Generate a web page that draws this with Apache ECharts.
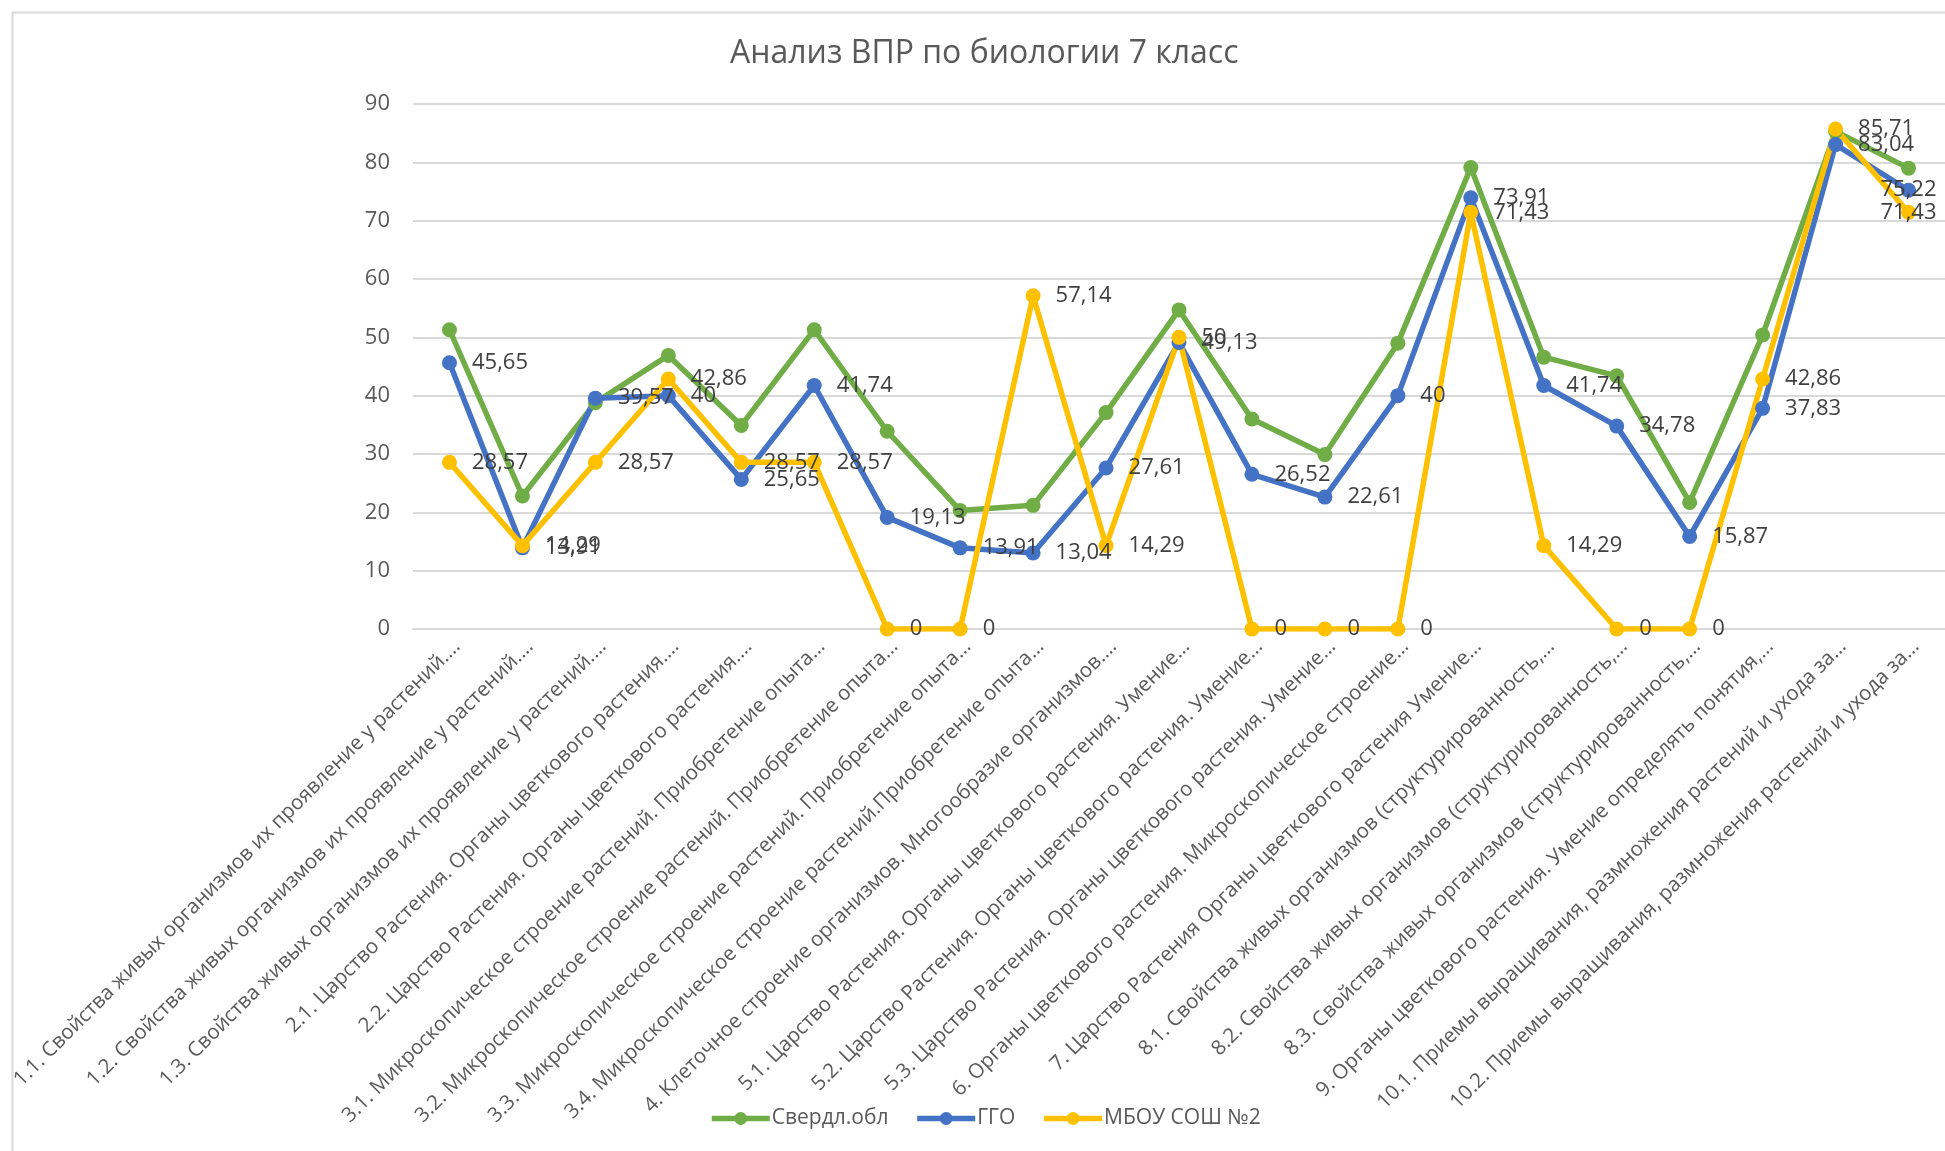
<!DOCTYPE html>
<html>
<head>
<meta charset="utf-8">
<title>Анализ ВПР по биологии 7 класс</title>
<script src="https://cdn.jsdelivr.net/npm/echarts@6/dist/echarts.min.js"></script>
<style>
  html, body { margin: 0; padding: 0; background: #fff; }
  #chart { width: 1945px; height: 1151px; }
</style>
</head>
<body>
<div id="chart"></div>
<script>
// задания ВПР (подписи обрезаны так же, как в Excel)
const tasks = [
  '1.1. Свойства живых организмов их проявление у растений.…',
  '1.2. Свойства живых организмов их проявление у растений.…',
  '1.3. Свойства живых организмов их проявление у растений.…',
  '2.1. Царство Растения. Органы цветкового растения.…',
  '2.2. Царство Растения. Органы цветкового растения.…',
  '3.1. Микроскопическое строение растений. Приобретение опыта…',
  '3.2. Микроскопическое строение растений. Приобретение опыта…',
  '3.3. Микроскопическое строение растений. Приобретение опыта…',
  '3.4. Микроскопическое строение растений.Приобретение опыта…',
  '4. Клеточное строение организмов. Многообразие организмов.…',
  '5.1. Царство Растения. Органы цветкового растения. Умение…',
  '5.2. Царство Растения. Органы цветкового растения. Умение…',
  '5.3. Царство Растения. Органы цветкового растения. Умение…',
  '6. Органы цветкового растения. Микроскопическое строение…',
  '7. Царство Растения Органы цветкового растения Умение…',
  '8.1. Свойства живых организмов (структурированность,…',
  '8.2. Свойства живых организмов (структурированность,…',
  '8.3. Свойства живых организмов (структурированность,…',
  '9. Органы цветкового растения. Умение определять понятия,…',
  '10.1. Приемы выращивания, размножения растений и ухода за…',
  '10.2. Приемы выращивания, размножения растений и ухода за…'
]

// Свердловская область (подписей нет)
const sverdl = [51.3, 22.8, 38.8, 46.9, 34.9, 51.3, 33.9, 20.3, 21.2, 37.1,
  54.7, 36.0, 29.9, 49.0, 79.1, 46.6, 43.4, 21.7, 50.4, 85.3, 79.0]
// ГГО
const ggo = [45.65, 13.91, 39.57, 40, 25.65, 41.74, 19.13, 13.91, 13.04, 27.61,
  49.13, 26.52, 22.61, 40, 73.91, 41.74, 34.78, 15.87, 37.83, 83.04, 75.22]
// МБОУ СОШ №2
const school = [28.57, 14.29, 28.57, 42.86, 28.57, 28.57, 0, 0, 57.14, 14.29,
  50, 0, 0, 0, 71.43, 14.29, 0, 0, 42.86, 85.71, 71.43]

const yTicks = [0, 10, 20, 30, 40, 50, 60, 70, 80, 90]

const FONT = '"Open Sans", "Noto Sans", sans-serif'

// подпись в формате Excel: запятая вместо точки
const fmt = v => String(v).replace('.', ',')

// последняя точка у правого края — подпись по центру точки, как в Excel
function withLabels(arr) {
  return arr.map((v, i) => i === arr.length - 1
    ? { value: v, label: { position: 'inside' } }
    : v)
}

function lineSeries(name, data, color, showLabel) {
  return {
    name: name,
    type: 'line',
    data: showLabel ? withLabels(data) : data,
    symbol: 'circle',
    symbolSize: 15,
    lineStyle: { width: 5.5, color: color },
    itemStyle: { color: color },
    label: {
      show: showLabel,
      position: 'right',
      distance: 15,
      color: '#404040',
      fontFamily: FONT,
      fontSize: 22,
      formatter: p => fmt(p.value)
    },
    emphasis: { disabled: true },
    animation: false
  }
}

const chart = echarts.init(document.getElementById('chart'))

const option = {
  backgroundColor: '#fff',
  color: ['#70AD47', '#4472C4', '#FFC000'],
  title: {
    text: 'Анализ ВПР по биологии 7 класс',
    left: 725,
    top: 33,
    textStyle: { color: '#595959', fontFamily: FONT, fontSize: 32, fontWeight: 'normal' }
  },
  graphic: [{
    // рамка области диаграммы
    type: 'rect',
    left: 10,
    top: 10,
    silent: true,
    z: -1,
    shape: { width: 2000, height: 1200 },
    style: { fill: 'none', stroke: '#d9d9d9', lineWidth: 2 }
  }],
  legend: {
    left: 704,
    top: 1103,
    itemWidth: 58,
    itemHeight: 16,
    itemGap: 26,
    lineStyle: { width: 5.5 },
    textStyle: { color: '#595959', fontFamily: FONT, fontSize: 21, padding: [0, 0, 0, -3] },
    data: ['Свердл.обл', 'ГГО', 'МБОУ СОШ №2']
  },
  grid: { left: 413, right: -7, top: 104, bottom: 522 },
  xAxis: {
    type: 'category',
    data: tasks,
    boundaryGap: true,
    axisLine: { show: true, lineStyle: { color: '#d9d9d9', width: 2 } },
    axisTick: { show: false },
    axisLabel: {
      interval: 0,
      rotate: 45,
      margin: 7,
      verticalAlign: 'top',
      color: '#595959',
      fontFamily: FONT,
      fontSize: 20.5
    }
  },
  yAxis: {
    type: 'value',
    min: yTicks[0],
    max: yTicks[yTicks.length - 1],
    interval: 10,
    axisLine: { show: false },
    axisTick: { show: false },
    axisLabel: { color: '#595959', fontFamily: FONT, fontSize: 22, margin: 23 },
    splitLine: { lineStyle: { color: '#d9d9d9', width: 2 } }
  },
  series: [
    lineSeries('Свердл.обл', sverdl, '#70AD47', false),
    lineSeries('ГГО', ggo, '#4472C4', true),
    lineSeries('МБОУ СОШ №2', school, '#FFC000', true)
  ]
}

chart.setOption(option)
</script>
</body>
</html>
